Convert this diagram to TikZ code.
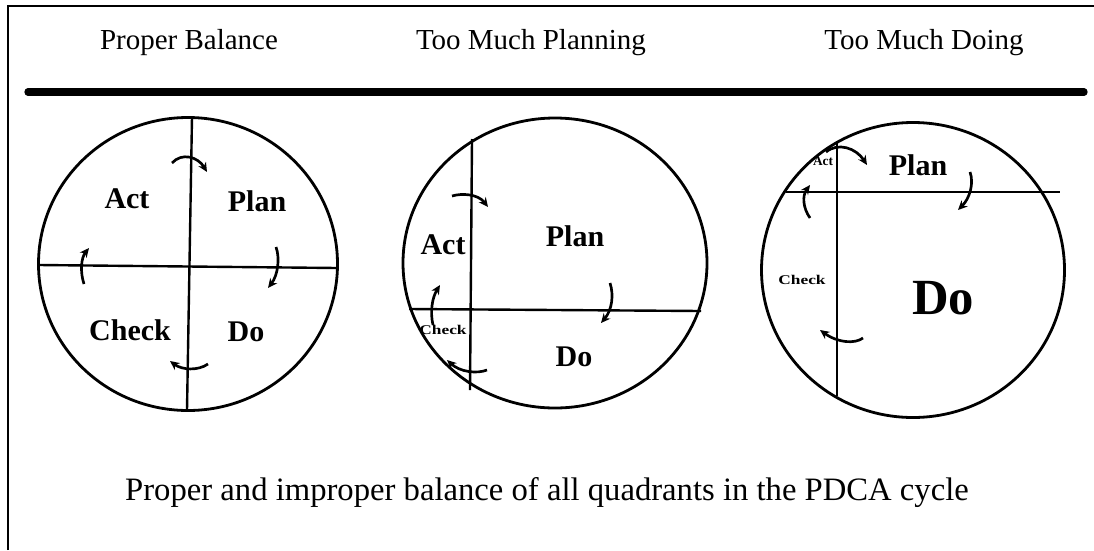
\documentclass[tikz,border=0pt]{standalone}
\usepackage{fontspec}
\setmainfont{Liberation Serif}
\usetikzlibrary{arrows.meta}
\begin{document}
\begin{tikzpicture}[x=0.75pt,y=-0.75pt,
  title/.style={font=\fontsize{21.75}{26}\selectfont, anchor=base, inner sep=0pt},
  quad/.style={font=\fontsize{22.5}{26}\selectfont\bfseries, inner sep=0pt},
  tiny/.style={font=\fontsize{10}{12}\selectfont\bfseries, inner sep=0pt, xscale=1.3},
  rim/.style={line width=2.1pt},
  grid/.style={line width=1.8pt},
  flow/.style={line width=2pt, -{Stealth[length=7pt,width=6.5pt]}}]
\useasboundingbox (0,0) rectangle (1094,550);
% frame
\draw[line width=1.6pt] (8,550) -- (8,6) -- (1094,6);
% titles
\node[title] (t1) at (189,49) {Proper Balance};
\node[title] (t2) at (531,49) {Too Much Planning};
\node[title] (t3) at (924,49) {Too Much Doing};
\draw[line width=5.5pt, line cap=round] (28,92) -- (1084,92);
% circle 1
\draw[rim] (188,264) ellipse [x radius=149.5, y radius=146.5];
\draw[grid] (192,117) -- (187,410);
\draw[grid] (39,265) -- (337,268);
\node[quad] (a1) at (127,199) {Act};
\node[quad] (p1) at (257,201) {Plan};
\node[quad] (c1) at (130,330) {Check};
\node[quad] (d1) at (246,332) {Do};
\draw[flow] (172,163) .. controls (182,152) and (198,157) .. (207,172);
\draw[flow] (276,247) .. controls (280,258) and (278,275) .. (268,288);
\draw[flow] (208,364) .. controls (198,371) and (182,370) .. (170,361);
\draw[flow] (84,284) .. controls (80,272) and (81,258) .. (89,248);
% circle 2
\draw[rim] (555,263) ellipse [x radius=152, y radius=145];
\draw[grid] (472,139) -- (470,390);
\draw[grid] (409,309) -- (701,311);
\node[quad] (a2) at (443,245) {Act};
\node[quad] (p2) at (575,236) {Plan};
\node[quad] (d2) at (574,357) {Do};
\node[tiny] (c2) at (443,330) {Check};
\draw[flow] (452,196) .. controls (462,193) and (478,194) .. (488,207);
\draw[flow] (610,283) .. controls (614,295) and (612,310) .. (601,323);
\draw[flow] (487,370) .. controls (477,374) and (460,372) .. (447,360);
\draw[flow] (433,325) .. controls (430,312) and (432,298) .. (440,285);
% circle 3
\draw[rim] (913,270) ellipse [x radius=151.5, y radius=147.5];
\draw[grid] (837,141) -- (837,396);
\draw[grid] (786,192) -- (1060,192);
\node[quad] (p3) at (918,165) {Plan};
\node[quad, font=\fontsize{38}{44}\selectfont\bfseries] (d3) at (943,298) {Do};
\node[tiny] (c3) at (802,280) {Check};
\node[font=\fontsize{10}{12}\selectfont\bfseries, inner sep=0pt] (a3) at (823,161) {Act};
\draw[flow] (826,152) .. controls (838,142) and (856,148) .. (867,165);
\draw[flow] (970,172) .. controls (974,183) and (970,198) .. (958,210);
\draw[flow] (863,338) .. controls (855,344) and (838,343) .. (820,330);
\draw[flow] (810,218) .. controls (803,208) and (802,196) .. (810,185);
% caption
\node[title, font=\fontsize{24.5}{29}\selectfont] (cap) at (547,500) {Proper and improper balance of all quadrants in the PDCA cycle};
\end{tikzpicture}
\end{document}
